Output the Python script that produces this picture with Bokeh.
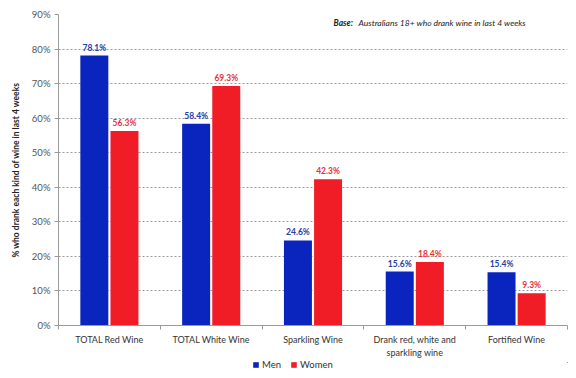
from bokeh.plotting import figure
from bokeh.layouts import column
from bokeh.models import (ColumnDataSource, FixedTicker, Legend, LegendItem, Label, Range1d)
from bokeh.core.properties import value
from bokeh.embed import file_html
from bokeh.resources import INLINE

categories = ["TOTAL Red Wine", "TOTAL White Wine", "Sparkling Wine",
              "Drank red, white and\nsparkling wine", "Fortified Wine"]
men = [78.1, 58.4, 24.6, 15.6, 15.4]
women = [56.3, 69.3, 42.3, 18.4, 9.3]
y_ticks = [0, 10, 20, 30, 40, 50, 60, 70, 80, 90]
series_names = ["Men", "Women"]

FONT = "Lato"
BLUE = "#0A24BE"
RED = "#F01D27"
BLUE_TXT = "#2440A8"
RED_TXT = "#E8323C"

centers = [i + 0.5 for i in range(len(categories))]
off = 0.148
bw = 0.275

src_m = ColumnDataSource(dict(x=[c - off for c in centers], top=men,
                              lab=[f"{v:.1f}%" for v in men]))
src_w = ColumnDataSource(dict(x=[c + off for c in centers], top=women,
                              lab=[f"{v:.1f}%" for v in women]))

p = figure(width=568, height=360, output_backend="svg", toolbar_location=None,
           x_range=Range1d(0, len(categories)), y_range=Range1d(0, 90),
           min_border_left=58, min_border_right=1, min_border_top=14, min_border_bottom=30)
p.outline_line_color = None
p.background_fill_color = "white"

p.vbar(x="x", top="top", width=bw, source=src_m, fill_color=BLUE, line_color=None)
p.vbar(x="x", top="top", width=bw, source=src_w, fill_color=RED, line_color=None)

p.text(x="x", y="top", text="lab", source=src_m, text_align="center",
       text_baseline="bottom", y_offset=-3, text_font=value(FONT),
       text_font_size="8.5px", text_font_style="bold", text_color=BLUE_TXT)
p.text(x="x", y="top", text="lab", source=src_w, text_align="center",
       text_baseline="bottom", y_offset=-3, text_font=value(FONT),
       text_font_size="8.5px", text_font_style="bold", text_color=RED_TXT)

# x axis
p.xaxis.ticker = FixedTicker(ticks=centers, minor_ticks=list(range(len(categories) + 1)))
p.xaxis.major_label_overrides = {c: lab for c, lab in zip(centers, categories)}
p.xaxis.major_tick_line_color = None
p.xaxis.major_tick_out = 0
p.xaxis.major_tick_in = 0
p.xaxis.minor_tick_line_color = "#9a9a9a"
p.xaxis.minor_tick_out = 4
p.xaxis.minor_tick_in = 0
p.xaxis.axis_line_color = "#9a9a9a"
p.xaxis.major_label_text_font = FONT
p.xaxis.major_label_text_font_size = "9px"
p.xaxis.major_label_text_color = "#333333"
p.xaxis.major_label_standoff = 4

# y axis
p.yaxis.ticker = FixedTicker(ticks=y_ticks)
p.yaxis.major_label_overrides = {t: f"{t}%" for t in y_ticks}
p.yaxis.axis_line_color = "#9a9a9a"
p.yaxis.major_tick_line_color = "#9a9a9a"
p.yaxis.major_tick_out = 4
p.yaxis.major_tick_in = 0
p.yaxis.minor_tick_line_color = None
p.yaxis.major_label_text_font = FONT
p.yaxis.major_label_text_font_size = "9.5px"
p.yaxis.major_label_text_color = "#555555"
p.yaxis.major_label_standoff = 4
p.yaxis.axis_label = "% who drank each kind of wine in last 4 weeks"
p.yaxis.axis_label_text_font = FONT
p.yaxis.axis_label_text_font_size = "8.5px"
p.yaxis.axis_label_text_font_style = "bold"
p.yaxis.axis_label_text_color = "#222222"
p.yaxis.axis_label_standoff = 8

p.xgrid.grid_line_color = None
p.ygrid.grid_line_color = "#9a9a9a"
p.ygrid.grid_line_dash = "2 2"

# base note
p.add_layout(Label(x=275, y=87.6, x_units="screen", y_units="data", text="Base:",
                   text_font=FONT, text_font_size="8.5px", text_font_style="bold italic",
                   text_color="#222222", text_baseline="middle"))
p.add_layout(Label(x=300, y=87.6, x_units="screen", y_units="data",
                   text="Australians 18+ who drank wine in last 4 weeks",
                   text_font=FONT, text_font_size="8.5px", text_font_style="italic",
                   text_color="#222222", text_baseline="middle"))

# legend strip below the chart (proxy renderers sit outside its visible range)
lg = figure(width=568, height=10, output_backend="svg", toolbar_location=None,
            x_range=Range1d(-30, -29), y_range=Range1d(-30, -29),
            x_axis_type=None, y_axis_type=None, min_border=0)
lg.outline_line_color = None
lg.grid.visible = False
proxy_m = lg.vbar(x="x", top="top", width=bw, source=src_m, fill_color=BLUE, line_color=None)
proxy_w = lg.vbar(x="x", top="top", width=bw, source=src_w, fill_color=RED, line_color=None)
legend = Legend(items=[LegendItem(label=series_names[0], renderers=[proxy_m]),
                       LegendItem(label=series_names[1], renderers=[proxy_w])],
                orientation="horizontal", location=(194, 0),
                label_text_font=FONT, label_text_font_size="9.5px",
                label_text_color="#333333", glyph_width=7, glyph_height=7,
                label_standoff=3, spacing=8, padding=0, margin=0,
                label_height=9, border_line_color=None, background_fill_alpha=0)
lg.add_layout(legend, "center")

layout = column(p, lg, spacing=0)
open("out.html", "w").write(file_html(layout, INLINE))
